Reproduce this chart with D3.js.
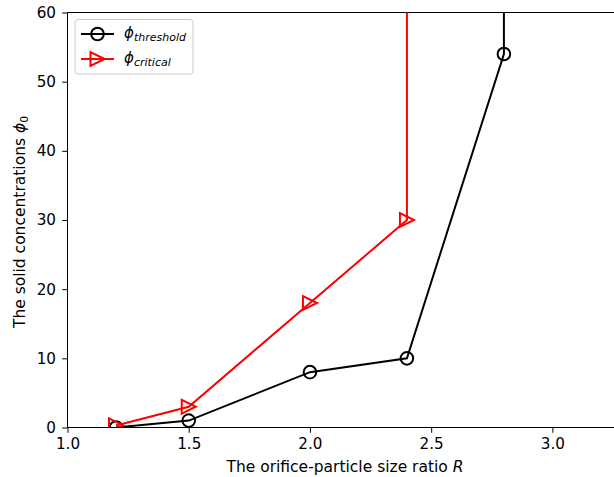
<!DOCTYPE html>
<html><head><meta charset="utf-8">
<script src="https://cdn.jsdelivr.net/npm/d3@7"></script>
<style>body{margin:0;background:#fff}text{font-family:"DejaVu Sans",sans-serif}</style>
</head><body>
<svg id="c" width="614" height="477"></svg>
<script>
const thresholdR = [1.2, 1.5, 2.0, 2.4, 2.8, 2.8];
const thresholdPhi = [0, 1, 8, 10, 54, 100];
const criticalR = [1.2, 1.5, 2.0, 2.4, 2.4];
const criticalPhi = [0.3, 3, 18, 30, 100];
const xTicks = [1.0, 1.5, 2.0, 2.5, 3.0];
const yTicks = [0, 10, 20, 30, 40, 50, 60];

const svg = d3.select("#c");
const L = 67.5, R = 620, T = 12.5, B = 427.5;
const x = d3.scaleLinear().domain([1.0, 1.0 + (R - L) / 242.45]).range([L, R]);
const y = d3.scaleLinear().domain([0, 60]).range([B, T]);

svg.append("clipPath").attr("id", "clip").append("rect")
  .attr("x", L).attr("y", T).attr("width", R - L).attr("height", B - T);

const xa = svg.append("g").attr("transform", `translate(0,${B})`)
  .call(d3.axisBottom(x).tickValues(xTicks).tickFormat(d3.format(".1f")).tickSizeOuter(0).tickSize(5.3).tickPadding(5.3));
const ya = svg.append("g").attr("transform", `translate(${L},0)`)
  .call(d3.axisLeft(y).tickValues(yTicks).tickFormat(d3.format("d")).tickSizeOuter(0).tickSize(5.3).tickPadding(6.2));
[xa, ya].forEach(a => {
  a.selectAll("text").attr("font-size", 15.2).attr("fill", "#000");
  a.selectAll("line").attr("stroke", "#000").attr("stroke-width", 1);
  a.select(".domain").remove();
});
ya.selectAll("text").attr("dy", "0.32em");
// spines
svg.append("line").attr("x1", L).attr("x2", L).attr("y1", T).attr("y2", B).attr("stroke", "#000").attr("stroke-width", 1);
svg.append("line").attr("x1", L).attr("x2", R).attr("y1", B).attr("y2", B).attr("stroke", "#000").attr("stroke-width", 1);
svg.append("line").attr("x1", L).attr("x2", R).attr("y1", T).attr("y2", T).attr("stroke", "#000").attr("stroke-width", 1);

const plot = svg.append("g").attr("clip-path", "url(#clip)");
const line = d3.line().x(d => x(d[0])).y(d => y(d[1]));
const tData = thresholdR.map((r, i) => [r, thresholdPhi[i]]);
const cData = criticalR.map((r, i) => [r, criticalPhi[i]]);

const tri = "M7,0L-7,-7L-7,7Z";
function drawSeries(data, color, marker) {
  plot.append("path").datum(data).attr("d", line).attr("fill", "none").attr("stroke", color).attr("stroke-width", 2);
  const m = plot.selectAll(null).data(data).enter();
  if (marker === "o") {
    m.append("circle").attr("cx", d => x(d[0])).attr("cy", d => y(d[1])).attr("r", 6.3)
      .attr("fill", "none").attr("stroke", color).attr("stroke-width", 2);
  } else {
    m.append("path").attr("d", tri).attr("transform", d => `translate(${x(d[0])},${y(d[1])})`)
      .attr("fill", "none").attr("stroke", color).attr("stroke-width", 2);
  }
}
drawSeries(tData, "#000", "o");
drawSeries(cData, "red", ">");

// axis labels
svg.append("text").attr("x", 345).attr("y", 472).attr("text-anchor", "middle").attr("font-size", 15.5)
  .html('The orifice-particle size ratio <tspan font-style="italic">R</tspan>');
svg.append("text").attr("transform", `translate(25,222) rotate(-90)`).attr("text-anchor", "middle").attr("font-size", 15.5)
  .html('The solid concentrations <tspan font-style="italic">ϕ</tspan><tspan font-size="10.8" dy="3">0</tspan>');

// legend
const lg = svg.append("g");
lg.append("rect").attr("x", 75).attr("y", 19.5).attr("width", 118).attr("height", 54.5).attr("rx", 3)
  .attr("fill", "#fff").attr("fill-opacity", 0.8).attr("stroke", "#ccc").attr("stroke-width", 1);
const items = [["threshold", "#000", "o", 34], ["critical", "red", ">", 59]];
items.forEach(([sub, col, mk, yy]) => {
  lg.append("line").attr("x1", 81).attr("x2", 114).attr("y1", yy).attr("y2", yy).attr("stroke", col).attr("stroke-width", 2);
  if (mk === "o") lg.append("circle").attr("cx", 97.5).attr("cy", yy).attr("r", 6.3).attr("fill", "none").attr("stroke", col).attr("stroke-width", 2);
  else lg.append("path").attr("d", tri).attr("transform", `translate(97.5,${yy})`).attr("fill", "none").attr("stroke", col).attr("stroke-width", 2);
  lg.append("text").attr("x", 124).attr("y", yy + 4).attr("font-size", 15)
    .html(`<tspan font-style="italic">ϕ</tspan><tspan font-style="italic" font-size="11" dy="3">${sub}</tspan>`);
});
</script>
</body></html>
